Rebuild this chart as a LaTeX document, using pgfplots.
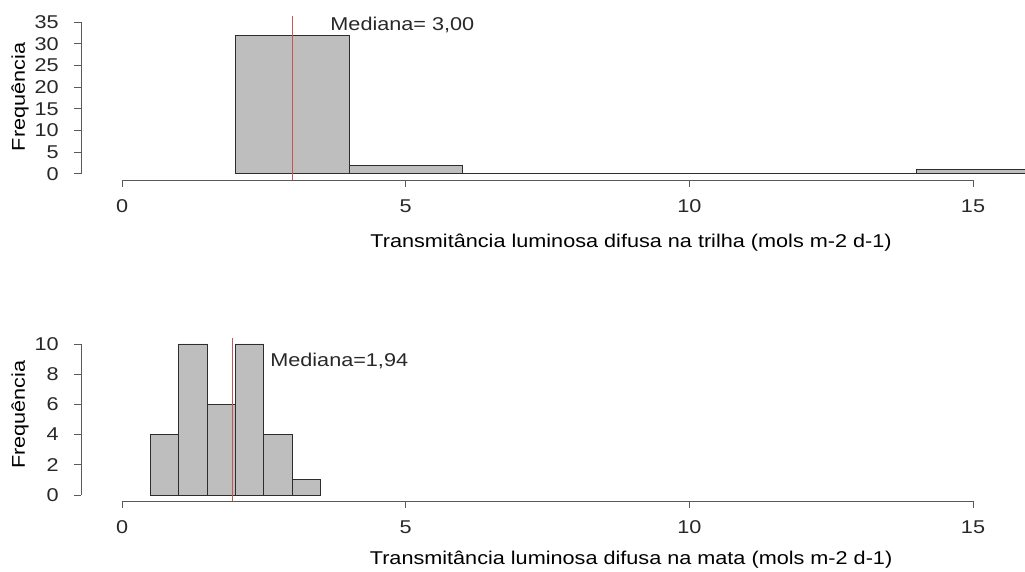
\documentclass[border=0pt]{standalone}
\usepackage{fontspec}
\setmainfont{Liberation Sans}[FakeStretch=1.17]
\usepackage{pgfplots}
\pgfplotsset{compat=1.18}
\definecolor{barfill}{RGB}{190,190,190}
\definecolor{barline}{RGB}{45,45,45}
\definecolor{axcol}{RGB}{90,90,90}
\definecolor{txt}{RGB}{40,40,40}
\definecolor{medred}{RGB}{200,85,85}
\pgfplotsset{
  rstyle/.style={
    scale only axis,
    clip=false,
    axis x line*=bottom,
    axis y line*=left,
    axis line style={draw=none},
    tick align=outside,
    major tick length=7pt,
    tick style={axcol, line width=0.9pt},
    xmin=-0.72, xmax=18.72,
    x=56.73pt,
    xtick={0,5,10,15},
    /pgf/number format/assume math mode=true,
    /pgf/number format/use comma,
    tick label style={text=txt},
    label style={text=txt},
    yticklabel style={anchor=east, xshift=-12pt},
    xticklabel style={anchor=north, yshift=-9pt},
  }
}
\begin{document}
\begin{tikzpicture}[font=\fontsize{18.5pt}{22pt}\selectfont]
\clip (0,0) rectangle (1025pt,571pt);
% ---------------- top histogram ----------------
\begin{axis}[rstyle,
  at={(81.2pt,391pt)}, anchor=south west,
  ymin=-1.4, ymax=36.4, y=4.34pt,
  ytick={0,5,10,15,20,25,30,35},
  xlabel={Transmitância luminosa difusa na trilha (mols m-2 d-1)},
  ylabel={Frequência},
  every axis x label/.style={at={(axis description cs:0.4986,-0.385)},anchor=center},
  every axis y label/.style={at={(axis description cs:-0.0555,0.506)},rotate=90,anchor=center},
]
\addplot[ybar interval, fill=barfill, draw=barline, line width=0.9pt]
  coordinates {(2,32) (4,2) (6,0) (8,0) (10,0) (12,0) (14,1) (16,1)};
\addplot[medred, line width=0.9pt] coordinates {(3,-1.4) (3,36.4)};
\node[anchor=west, text=txt, inner sep=0pt] at (axis cs:3.67,34.3) {Mediana= 3,00};
\draw[axcol, line width=0.9pt] (axis cs:0,-1.4) -- (axis cs:15,-1.4);
\draw[axcol, line width=0.9pt] (axis cs:-0.72,0) -- (axis cs:-0.72,35);
\end{axis}
% ---------------- bottom histogram ----------------
\begin{axis}[rstyle,
  at={(81.2pt,70pt)}, anchor=south west,
  ymin=-0.4, ymax=10.4, y=15.1pt,
  ytick={0,2,4,6,8,10},
  xlabel={Transmitância luminosa difusa na mata (mols m-2 d-1)},
  ylabel={Frequência},
  every axis x label/.style={at={(axis description cs:0.4986,-0.36)},anchor=center},
  every axis y label/.style={at={(axis description cs:-0.0555,0.53)},rotate=90,anchor=center},
]
\addplot[ybar interval, fill=barfill, draw=barline, line width=0.9pt]
  coordinates {(0.5,4) (1.0,10) (1.5,6) (2.0,10) (2.5,4) (3.0,1) (3.5,1)};
\addplot[medred, line width=0.9pt] coordinates {(1.94,-0.4) (1.94,10.4)};
\node[anchor=west, text=txt, inner sep=0pt] at (axis cs:2.61,8.87) {Mediana=1,94};
\draw[axcol, line width=0.9pt] (axis cs:0,-0.4) -- (axis cs:15,-0.4);
\draw[axcol, line width=0.9pt] (axis cs:-0.72,0) -- (axis cs:-0.72,10);
\end{axis}
\end{tikzpicture}
\end{document}
